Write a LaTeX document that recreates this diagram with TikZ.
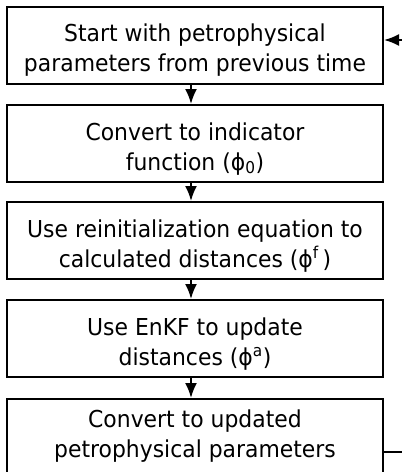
\documentclass[tikz,border=0pt]{standalone}
\usepackage{fontspec}
\setmainfont[FakeStretch=0.94]{DejaVu Sans}
\usepackage{tikz}
\usetikzlibrary{arrows.meta,positioning,calc}

\tikzset{
  stepbox/.style={draw, line width=2pt, minimum width=376pt, minimum height=77pt,
    align=center, inner sep=0pt, text height=58pt, font=\fontsize{23.3}{30}\selectfont},
  flow/.style={line width=2pt, -{Latex[length=15pt,width=12pt]}}
}

\begin{document}
\begin{tikzpicture}[x=1pt,y=-1pt]
  \useasboundingbox (0,0) rectangle (402,472);
  \clip (0,0) rectangle (402,472);
  % the five steps
  \node[stepbox] (start) at (195,45) {Start with petrophysical\\parameters from previous time};
  \node[stepbox] (indicator) at (195,143.5) {Convert to indicator\\function (ϕ\textsubscript{0})};
  \node[stepbox] (reinit) at (195,240.5) {Use reinitialization equation to\\calculated distances (ϕ\textsuperscript{f}\,)};
  \node[stepbox] (enkf) at (195,338.5) {Use EnKF to update\\distances (ϕ\textsuperscript{a})};
  \node[stepbox, text height=44pt] (convert) at (195,437.5) {Convert to updated\\petrophysical parameters};

  \draw[flow] ([xshift=-4pt]start.south) -- ([xshift=-4pt]indicator.north);
  \draw[flow] ([xshift=-4pt]indicator.south) -- ([xshift=-4pt]reinit.north);
  \draw[flow] ([xshift=-4pt]reinit.south) -- ([xshift=-4pt]enkf.north);
  \draw[flow] ([xshift=-4pt]enkf.south) -- ([xshift=-4pt]convert.north);

  % feedback loop, mostly outside the frame
  \coordinate (back) at (420,452);
  \coordinate (ret) at (420,40);
  \draw[flow] (convert.east |- back) -- (back) -- (ret) -- (start.east |- ret);
\end{tikzpicture}
\end{document}
